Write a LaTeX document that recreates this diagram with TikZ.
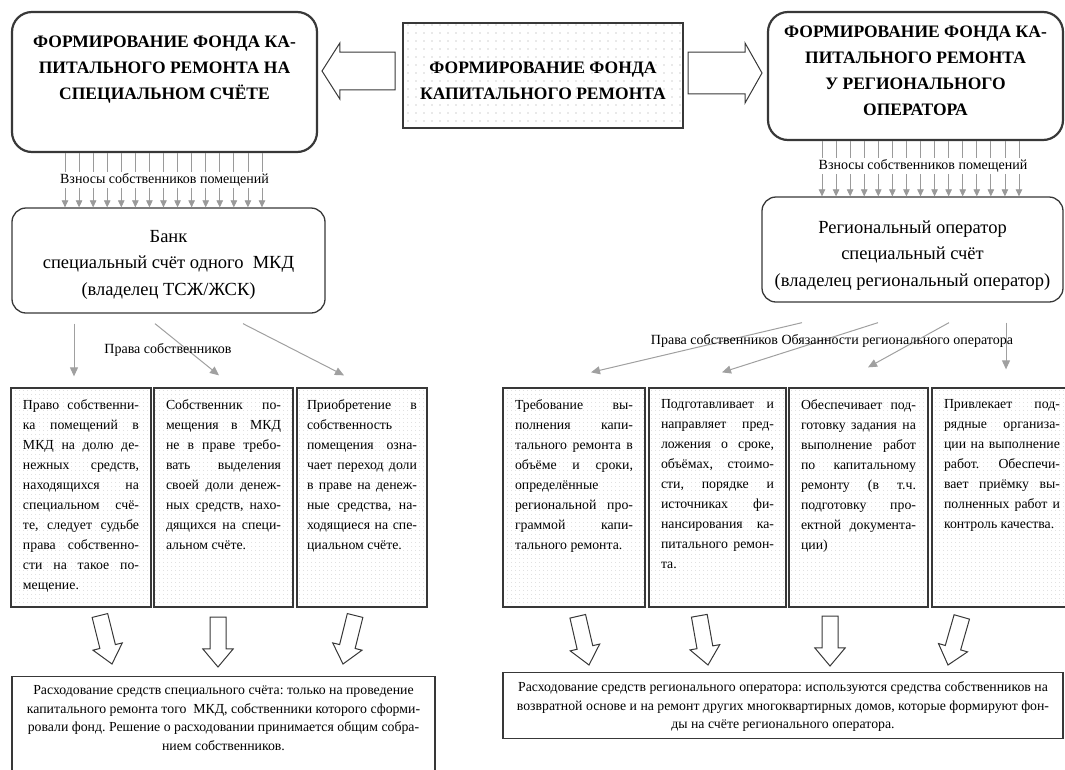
\documentclass[tikz,border=0pt]{standalone}
\usepackage{fontspec}
\setmainfont{Liberation Serif}
\usetikzlibrary{shapes.arrows,arrows.meta,patterns.meta}
\frenchspacing

\definecolor{edge}{HTML}{383838}
\definecolor{linkgray}{HTML}{A0A0A0}
\definecolor{feedgray}{HTML}{9A9A9A}

\def \feedsep {14.07}
\def \titlefont {\fontsize{17.5}{26}\selectfont\bfseries}
\def \bankfont {\fontsize{18.5}{26.5}\selectfont}
\def \colfont {\fontsize{13.8}{20}\selectfont}
\def \notefont {\fontsize{13.8}{18.5}\selectfont}
\def \lblfont {\fontsize{14}{16}\selectfont}

\newcommand{\jl}[1]{\makebox[\linewidth][s]{#1}\\}
\newcommand{\coltext}[2]{\begin{minipage}[c][196pt][t]{#1}\colfont #2\end{minipage}}
\newcommand{\notetext}[3]{\begin{minipage}[c][#2][t]{#1}\centering\notefont #3\end{minipage}}

\tikzstyle{fundbox}=[draw=edge, line width=2.2pt, rounded corners=20pt]
\tikzstyle{fundtitle}=[font=\titlefont, align=center]
\tikzstyle{centrebox}=[draw=edge, line width=2.2pt, pattern={Dots[distance=8pt, radius=.7pt]}, pattern color=gray!75]
\tikzstyle{bankbox}=[draw=edge, line width=1.3pt, rounded corners=14pt]
\tikzstyle{banktext}=[font=\bankfont, align=center]
\tikzstyle{colbox}=[draw=edge, line width=1.3pt, pattern={Dots[distance=4pt, radius=.4pt]}, pattern color=gray!55, inner xsep=12pt, inner ysep=11.5pt]
\tikzstyle{notebox}=[draw=edge, line width=1.3pt, inner xsep=5pt, inner ysep=9pt, anchor=north]
\tikzstyle{fatarrow}=[single arrow, draw=edge, line width=1pt, fill=white, inner sep=0pt, outer sep=0pt, anchor=tip]
\tikzstyle{downarrow}=[fatarrow, minimum height=50pt, minimum width=29pt, inner ysep=7.5pt, single arrow tip angle=80]
\tikzstyle{feed}=[color=feedgray, line width=.75pt, -{Triangle[width=6.5pt,length=7pt]}]
\tikzstyle{link}=[color=linkgray, line width=1pt, -{Triangle[width=8pt,length=9pt]}]
\tikzstyle{lbl}=[font=\lblfont, inner sep=1pt]

\begin{document}
\begin{tikzpicture}[x=1pt, y=-1pt]
\useasboundingbox (0,0) rectangle (1065,769);
\clip (0,0) rectangle (1065,769);

\node[fundbox, minimum width=305pt, minimum height=140pt] (lfund) at (164.5,82) {};
\node[fundtitle] (lfundtitle) at ([yshift=12pt]lfund.center) {ФОРМИРОВАНИЕ ФОНДА КА-\\ПИТАЛЬНОГО РЕМОНТА НА\\СПЕЦИАЛЬНОМ СЧЁТЕ};

\node[centrebox, minimum width=280pt, minimum height=105pt] (fund) at (543,75.5) {};
\node[fundtitle] (fundtitle) at ([yshift=-5pt]fund.center) {ФОРМИРОВАНИЕ ФОНДА\\КАПИТАЛЬНОГО РЕМОНТА};

\node[fundbox, minimum width=295pt, minimum height=128pt] (rfund) at (915.5,76) {};
\node[fundtitle] (rfundtitle) at ([yshift=5pt]rfund.center) {ФОРМИРОВАНИЕ ФОНДА КА-\\ПИТАЛЬНОГО РЕМОНТА\\У РЕГИОНАЛЬНОГО\\ОПЕРАТОРА};

\node[fatarrow, rotate=180, minimum height=73pt, minimum width=56pt, inner ysep=14pt, single arrow tip angle=115] (lpush) at (322,71) {};
\node[fatarrow, minimum height=74pt, minimum width=60pt, inner ysep=16pt, single arrow tip angle=121] (rpush) at (762,73) {};

\node[bankbox, minimum width=313pt, minimum height=105pt] (lbank) at (168.5,260.5) {};
\node[banktext] (lbanktext) at ([yshift=-4pt]lbank.center) {Банк\\специальный счёт одного \ МКД\\(владелец ТСЖ/ЖСК)};
\node[bankbox, minimum width=301pt, minimum height=105pt] (rbank) at (912.5,249.5) {};
\node[banktext] (rbanktext) at ([yshift=-6pt]rbank.center) {Региональный оператор\\специальный счёт\\(владелец региональный оператор)};

\foreach \i [evaluate=\i as \fx using 65+\i*\feedsep] in {0,...,14}
    \draw[feed] (lfund.south -| \fx,0) -- (lbank.north -| \fx,0);
\foreach \i [evaluate=\i as \fx using 822+\i*\feedsep] in {0,...,14}
    \draw[feed] (rfund.south -| \fx,0) -- (rbank.north -| \fx,0);

\node[lbl, fill=white, inner sep=2pt] (lfeed) at (164.5,180) {Взносы собственников помещений};
\node[lbl, fill=white, inner sep=2pt] (rfeed) at (923,166) {Взносы собственников помещений};

\node[colbox] (lr1) at (81,497.5) {\coltext{116pt}{\jl{Право собственни-}\jl{ка помещений в}\jl{МКД на долю де-}\jl{нежных средств,}\jl{находящихся на}\jl{специальном счё-}\jl{те, следует судьбе}\jl{права собственно-}\jl{сти на такое по-}мещение.}};
\node[colbox] (lr2) at (223.5,497.5) {\coltext{115pt}{\jl{Собственник по-}\jl{мещения в МКД}\jl{не в праве требо-}\jl{вать выделения}\jl{своей доли денеж-}\jl{ных средств, нахо-}\jl{дящихся на специ-}альном счёте.}};
\node[colbox, inner xsep=10pt] (lr3) at (362,497.5) {\coltext{110pt}{\jl{Приобретение в}\jl{собственность}\jl{помещения озна-}\jl{чает переход доли}\jl{в праве на денеж-}\jl{ные средства, на-}\jl{ходящиеся на спе-}циальном счёте.}};

\node[colbox] (rr1) at (574,497.5) {\coltext{118pt}{\jl{Требование вы-}\jl{полнения капи-}\jl{тального ремонта в}\jl{объёме и сроки,}\jl{определённые}\jl{региональной про-}\jl{граммой капи-}тального ремонта.}};
\node[colbox] (rr2) at (717.5,497.5) {\coltext{113pt}{\jl{Подготавливает и}\jl{направляет пред-}\jl{ложения о сроке,}\jl{объёмах, стоимо-}\jl{сти, порядке и}\jl{источниках фи-}\jl{нансирования ка-}\jl{питального ремон-}та.}};
\node[colbox] (rr3) at (858.5,497.5) {\coltext{115pt}{\jl{Обеспечивает под-}\jl{готовку задания на}\jl{выполнение работ}\jl{по капитальному}\jl{ремонту (в т.ч.}\jl{подготовку про-}\jl{ектной документа-}ции)}};
\node[colbox] (rr4) at (1002,497.5) {\coltext{116pt}{\jl{Привлекает под-}\jl{рядные организа-}\jl{ции на выполнение}\jl{работ. Обеспечи-}\jl{вает приёмку вы-}\jl{полненных работ и}контроль качества.}};

\draw[link] ([shift={(-94.5,10)}]lbank.south) -- ([shift={(-7,-11)}]lr1.north);
\draw[link] ([shift={(-13.5,10)}]lbank.south) -- ([shift={(-4.5,-12)}]lr2.north);
\draw[link] ([shift={(74.5,10)}]lbank.south) -- ([shift={(-18,-12)}]lr3.north);
\foreach \n/\sx/\ex/\ey in {1/-110.5/17/-15, 2/-34.5/4.5/-15, 3/36.5/9.5/-20, 4/93.5/4/-18}
    \draw[link] ([shift={(\sx,20)}]rbank.south) -- ([shift={(\ex,\ey)}]rr\n.north);

\node[lbl] (lrights) at (168,350) {Права собственников};
\node[lbl] (rrights) at (832,341) {Права собственников Обязанности регионального оператора};

\foreach \n/\x/\y/\r in {1/112/664/-76, 2/218/667/-90, 3/343/664/-104}
    \node[downarrow, rotate=\r] (ldown\n) at (\x,\y) {};
\foreach \n/\x/\y/\r in {1/589/665/-77, 2/708/665/-80, 3/830/666/-90, 4/948/665/-106}
    \node[downarrow, rotate=\r] (rdown\n) at (\x,\y) {};

\node[notebox] (lspend) at (223.5,676) {\notetext{413pt}{100pt}{Расходование средств специального счёта: только на проведение\\капитального ремонта того \ МКД, собственники которого сформи-\\ровали фонд. Решение о расходовании принимается общим собра-\\нием собственников.}};
\node[notebox] (rspend) at (783,672) {\notetext{550pt}{48pt}{Расходование средств регионального оператора: используются средства собственников на\\возвратной основе и на ремонт других многоквартирных домов, которые формируют фон-\\ды на счёте регионального оператора.}};

\end{tikzpicture}
\end{document}
